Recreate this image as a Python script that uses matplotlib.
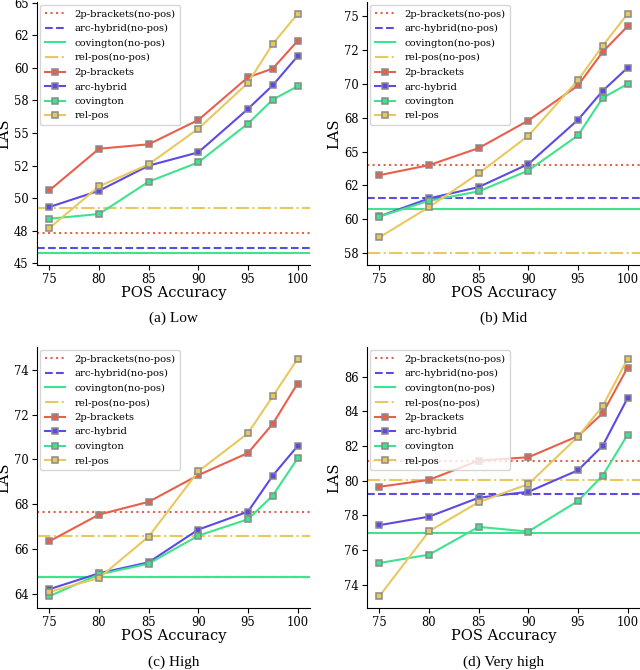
import numpy as np
import matplotlib
matplotlib.use("Agg")
import matplotlib.pyplot as plt
from matplotlib.ticker import MultipleLocator, FormatStrFormatter

plt.rcParams['font.family'] = 'DejaVu Serif'

pos_acc = [75, 80, 85, 90, 95, 97.5, 100]
models = ['2p-brackets', 'arc-hybrid', 'covington', 'rel-pos']
colors = ['#e8604c', '#5b4ae6', '#3ee38e', '#e8c95e']
nopos_styles = [':', '--', '-', '-.']

panels = ['(a) Low', '(b) Mid', '(c) High', '(d) Very high']

# baselines without POS tags, order as in models
nopos_low = [47.31, 46.15, 45.77, 49.23]
nopos_mid = [63.98, 61.59, 60.73, 57.5]
nopos_high = [67.67, 64.77, 64.75, 66.57]
nopos_vhigh = [81.14, 79.23, 77.0, 80.05]

# LAS per model for each POS accuracy
las_low = [
    [50.59, 53.79, 54.13, 56.0, 59.28, 59.95, 62.08],
    [49.31, 50.56, 52.49, 53.51, 56.85, 58.67, 60.9],
    [48.41, 48.77, 51.26, 52.74, 55.72, 57.56, 58.59],
    [47.69, 50.9, 52.59, 55.33, 58.85, 61.85, 64.15],
]
las_mid = [
    [63.26, 64.0, 65.26, 67.3, 69.89, 72.38, 74.27],
    [60.21, 61.54, 62.38, 64.08, 67.35, 69.5, 71.2],
    [60.2, 61.37, 62.06, 63.6, 66.2, 68.98, 70.0],
    [58.66, 60.9, 63.39, 66.17, 70.28, 72.84, 75.18],
]
las_high = [
    [66.35, 67.54, 68.11, 69.3, 70.29, 71.59, 73.39],
    [64.21, 64.92, 65.41, 66.87, 67.67, 69.28, 70.6],
    [63.9, 64.87, 65.35, 66.6, 67.33, 68.39, 70.05],
    [64.09, 64.71, 66.56, 69.47, 71.17, 72.82, 74.49],
]
las_vhigh = [
    [79.65, 80.05, 81.16, 81.35, 82.57, 83.89, 86.52],
    [77.44, 77.93, 79.02, 79.36, 80.6, 82.02, 84.76],
    [75.26, 75.74, 77.34, 77.07, 78.83, 80.3, 82.65],
    [73.35, 77.09, 78.77, 79.8, 82.53, 84.31, 87.02],
]

nopos_all = [nopos_low, nopos_mid, nopos_high, nopos_vhigh]
las_all = [las_low, las_mid, las_high, las_vhigh]

fig = plt.figure(figsize=(6.4, 6.7), dpi=100)
W, H = 640.0, 670.0
boxes = [(37, 2, 310, 265), (367, 2, 640, 265),
         (37, 347, 310, 608), (367, 347, 640, 608)]
caption_y = [318, 662]

for k in range(4):
    x0, y0, x1, y1 = boxes[k]
    ax = fig.add_axes([x0 / W, 1 - y1 / H, (x1 - x0) / W, (y1 - y0) / H])
    for m in range(4):
        ax.axhline(nopos_all[k][m], color=colors[m], ls=nopos_styles[m], lw=1.5,
                   label=models[m] + '(no-pos)')
    for m in range(4):
        ax.plot(pos_acc, las_all[k][m], color=colors[m], lw=1.5, marker='s',
                markersize=4.3, markerfacecolor=colors[m], markeredgecolor='#8a8a8a',
                markeredgewidth=1.1, label=models[m])
    ax.spines['top'].set_visible(False)
    ax.spines['right'].set_visible(False)
    ax.set_xticks([75, 80, 85, 90, 95, 100])
    if k < 2:
        ax.yaxis.set_major_locator(MultipleLocator(2.5))
        ax.yaxis.set_major_formatter(FormatStrFormatter('%.0f'))
    else:
        ax.yaxis.set_major_locator(MultipleLocator(2))
    ax.tick_params(labelsize=8.3, pad=2.5)
    ax.set_xlabel('POS Accuracy', fontsize=10.5, labelpad=0)
    ax.set_ylabel('LAS', fontsize=10.5, labelpad=2)
    ax.legend(loc='upper left', fontsize=7.2, handlelength=2.0, labelspacing=0.55,
              borderpad=0.45, handletextpad=1.0, borderaxespad=0.3)
    cx = (x0 + x1) / 2.0 / W
    fig.text(cx, 1 - caption_y[k // 2] / H, panels[k], ha='center', va='center',
             fontsize=11, family='Liberation Serif')

fig.savefig('out.png', dpi=100)
